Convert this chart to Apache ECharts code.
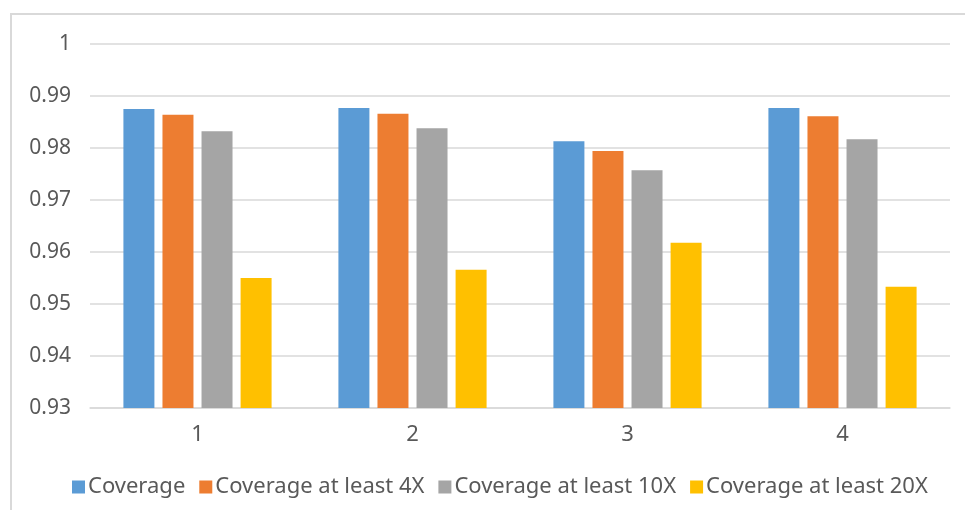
<!DOCTYPE html>
<html>
<head>
<meta charset="utf-8">
<script src="https://cdn.jsdelivr.net/npm/echarts@6/dist/echarts.min.js"></script>
<style>html,body{margin:0;padding:0;background:#fff;}#c{width:965px;height:510px;}</style>
</head>
<body>
<div id="c"></div>
<script>
const categories = ['1', '2', '3', '4'];
const seriesNames = ['Coverage', 'Coverage at least 4X', 'Coverage at least 10X', 'Coverage at least 20X'];
const coverage = [0.9875, 0.9877, 0.9813, 0.9877];
const coverage4X = [0.9864, 0.9866, 0.9794, 0.9861];
const coverage10X = [0.9832, 0.9838, 0.9757, 0.9817];
const coverage20X = [0.9550, 0.9566, 0.9618, 0.9533];
const yTicks = { min: 0.93, max: 1, interval: 0.01 };

const colors = ['#5b9bd5', '#ed7d31', '#a5a5a5', '#ffc000'];
const values = [coverage, coverage4X, coverage10X, coverage20X];
const font = 'Noto Sans';

const chart = echarts.init(document.getElementById('c'));
chart.setOption({
  animation: false,
  backgroundColor: '#fff',
  graphic: [{
    type: 'rect',
    shape: { x: 11, y: 14, width: 1000, height: 600 },
    style: { fill: 'none', stroke: '#d9d9d9', lineWidth: 2 },
    silent: true
  }],
  legend: {
    data: seriesNames,
    bottom: 7,
    left: 67,
    itemWidth: 13,
    itemHeight: 13,
    itemGap: 14,
    icon: 'rect',
    textStyle: { color: '#595959', fontSize: 22, fontFamily: font, padding: [0, 0, 0, -2] }
  },
  grid: { left: 90, right: 15, top: 44, bottom: 102, containLabel: false },
  xAxis: {
    type: 'category',
    data: categories,
    axisLine: { lineStyle: { color: '#d9d9d9', width: 1.5 } },
    axisTick: { show: false },
    axisLabel: { color: '#595959', fontSize: 22, fontFamily: font, margin: 16 }
  },
  yAxis: {
    type: 'value',
    min: yTicks.min,
    max: yTicks.max,
    interval: yTicks.interval,
    axisLine: { show: false },
    axisTick: { show: false },
    splitLine: { lineStyle: { color: '#d9d9d9', width: 1.5 } },
    axisLabel: { color: '#595959', fontSize: 21, fontFamily: font, margin: 19 }
  },
  series: seriesNames.map((n, i) => ({
    name: n,
    type: 'bar',
    data: values[i],
    barWidth: 31,
    barGap: '26%',
    itemStyle: { color: colors[i] }
  }))
});
</script>
</body>
</html>
